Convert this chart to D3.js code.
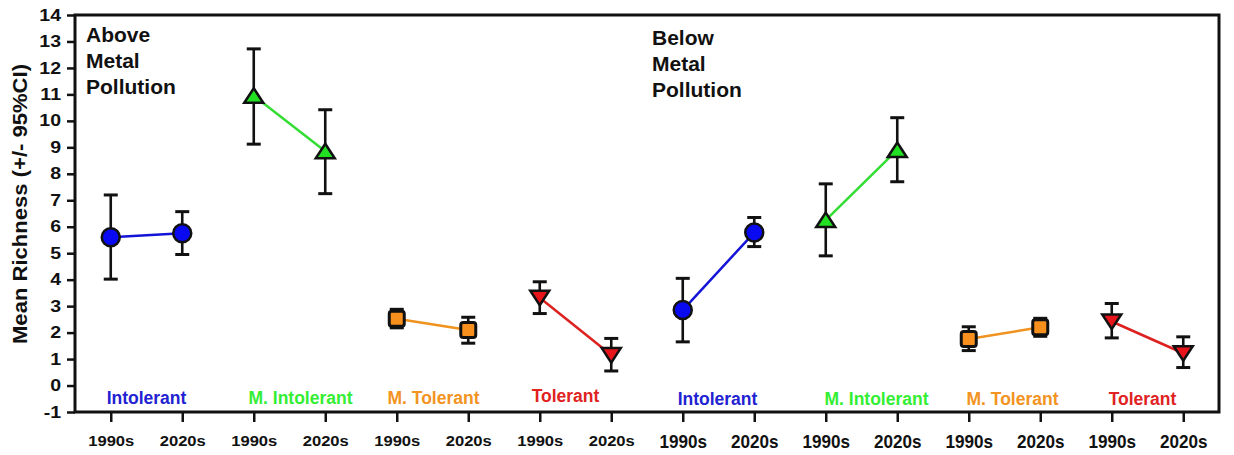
<!DOCTYPE html>
<html>
<head>
<meta charset="utf-8">
<script src="https://cdn.jsdelivr.net/npm/d3@7"></script>
<style>
  html, body { margin: 0; padding: 0; background: #fff; }
  svg { display: block; font-family: Arial, "Liberation Sans", sans-serif; }
</style>
</head>
<body>
<svg id="chart" width="1234" height="455"></svg>
<script>
// ---------------- data ----------------
const zones = ["Above Metal Pollution", "Below Metal Pollution"];
const categories = ["Intolerant", "M. Intolerant", "M. Tolerant", "Tolerant"];
const periods = ["1990s", "2020s"];
const yTicks = [-1, 0, 1, 2, 3, 4, 5, 6, 7, 8, 9, 10, 11, 12, 13, 14];
const yTitle = "Mean Richness (+/- 95%CI)";

// order within each array: Above 1990s, Above 2020s, Below 1990s, Below 2020s
const intolerantMean  = [5.60, 5.75, 2.85, 5.78];
const intolerantLow   = [4.02, 4.95, 1.65, 5.25];
const intolerantHigh  = [7.20, 6.57, 4.05, 6.35];
const mIntolerantMean = [10.95, 8.85, 6.25, 8.90];
const mIntolerantLow  = [9.12, 7.25, 4.90, 7.70];
const mIntolerantHigh = [12.72, 10.42, 7.62, 10.12];
const mTolerantMean   = [2.52, 2.10, 1.76, 2.20];
const mTolerantLow    = [2.18, 1.60, 1.32, 1.86];
const mTolerantHigh   = [2.88, 2.58, 2.22, 2.54];
const tolerantMean    = [3.32, 1.15, 2.42, 1.22];
const tolerantLow     = [2.72, 0.55, 1.80, 0.68];
const tolerantHigh    = [3.92, 1.78, 3.10, 1.84];

const seriesMean = [intolerantMean, mIntolerantMean, mTolerantMean, tolerantMean];
const seriesLow  = [intolerantLow, mIntolerantLow, mTolerantLow, tolerantLow];
const seriesHigh = [intolerantHigh, mIntolerantHigh, mTolerantHigh, tolerantHigh];

// ---------------- styles ----------------
const fillColors = ["#0a0af2", "#22e022", "#f7901c", "#e8141c"];
const lineColors = ["#1414d8", "#33dd33", "#f0921e", "#dd2020"];
const textColors = ["#2222d2", "#33ee33", "#f29322", "#e02222"];
const markerShapes = ["circle", "up", "square", "down"];
const labelDx = [[0, 11, 1, -10], [-1, 15, 8, -5]];
const labelDy = [[0, 0, 0, -2], [1, 1, 1, 1]];

// ---------------- layout ----------------
const svg = d3.select("#chart");
const X0 = 75, X1 = 1219, Y0 = 412, Y1 = 15;

const keys = d3.range(zones.length * categories.length * periods.length);
const x = d3.scalePoint().domain(keys).range([X0, X1]).padding(0.5);
const y = d3.scaleLinear().domain([-1, 14]).range([Y0, Y1]);

function stretch(sel, f) {
  sel.each(function () {
    const len = this.getComputedTextLength();
    d3.select(this).attr("textLength", len * f).attr("lengthAdjust", "spacingAndGlyphs");
  });
}

// y axis
const yAxis = svg.append("g")
  .attr("transform", `translate(${X0},0)`)
  .call(d3.axisLeft(y).tickValues(yTicks).tickSize(8).tickPadding(6).tickFormat(d => String(d)));
yAxis.select(".domain").remove();
yAxis.selectAll(".tick line").attr("stroke", "#111").attr("stroke-width", 2.5);
yAxis.selectAll(".tick text")
  .attr("fill", "#111").attr("font-size", 16).attr("font-weight", "bold")
  .attr("font-family", "Arial, 'Liberation Sans', sans-serif")
  .call(stretch, 1.22);

// x axis
const xAxis = svg.append("g")
  .attr("transform", `translate(0,${Y0})`)
  .call(d3.axisBottom(x).tickSize(10).tickPadding(0).tickFormat(d => periods[d % 2]));
xAxis.select(".domain").remove();
xAxis.selectAll(".tick line").attr("stroke", "#111").attr("stroke-width", 2.5);
xAxis.selectAll(".tick text")
  .attr("fill", "#111").attr("font-weight", "bold")
  .attr("font-family", "Arial, 'Liberation Sans', sans-serif")
  .attr("dy", null)
  .attr("y", d => d < 8 ? 34 : 36)
  .attr("font-size", d => d < 8 ? 15.5 : 19)
  .each(function (d) { d3.select(this).call(stretch, d < 8 ? 1.07 : 0.9); });

// frame
svg.append("path")
  .attr("d", `M${X0},${Y1} L${X1},${Y1} L${X1},${Y0} L${X0},${Y0} Z`)
  .attr("fill", "none").attr("stroke", "#111").attr("stroke-width", 3);

// y title
svg.append("text")
  .attr("transform", `translate(27,204) rotate(-90)`)
  .attr("text-anchor", "middle")
  .attr("font-size", 21).attr("font-weight", "bold").attr("fill", "#111")
  .text(yTitle)
  .call(stretch, 1.05);

// zone annotations
const zoneAnchor = [{ x: 86, y: 42 }, { x: 652, y: 45 }];
zones.forEach((z, zi) => {
  const words = z.split(" ");
  const t = svg.append("text")
    .attr("font-size", 21).attr("font-weight", "bold").attr("fill", "#111");
  words.forEach((w, i) => {
    t.append("tspan").attr("x", zoneAnchor[zi].x).attr("y", zoneAnchor[zi].y + i * 26).text(w);
  });
});

// build points
const points = [];
zones.forEach((z, zi) => {
  categories.forEach((c, ci) => {
    periods.forEach((p, pi) => {
      const idx = zi * 2 + pi;
      points.push({
        key: zi * 8 + ci * 2 + pi, zi, ci, pi,
        mean: seriesMean[ci][idx], low: seriesLow[ci][idx], high: seriesHigh[ci][idx]
      });
    });
  });
});

// category labels
zones.forEach((z, zi) => {
  categories.forEach((c, ci) => {
    const k0 = zi * 8 + ci * 2;
    svg.append("text")
      .attr("x", (x(k0) + x(k0 + 1)) / 2 + labelDx[zi][ci])
      .attr("y", 404 + labelDy[zi][ci])
      .attr("text-anchor", "middle")
      .attr("font-size", 17.5).attr("font-weight", "bold")
      .attr("fill", textColors[ci])
      .text(c);
  });
});

// connecting lines
const line = d3.line().x(d => x(d.key)).y(d => y(d.mean));
zones.forEach((z, zi) => {
  categories.forEach((c, ci) => {
    const seg = points.filter(p => p.zi === zi && p.ci === ci);
    svg.append("path").attr("d", line(seg))
      .attr("fill", "none").attr("stroke", lineColors[ci]).attr("stroke-width", 2.5);
  });
});

// error bars
const eb = svg.append("g").attr("stroke", "#111");
points.forEach(p => {
  const cx = x(p.key);
  eb.append("line").attr("x1", cx).attr("x2", cx).attr("y1", y(p.high)).attr("y2", y(p.low)).attr("stroke-width", 2.6);
  [p.high, p.low].forEach(v => {
    eb.append("line").attr("x1", cx - 7).attr("x2", cx + 7).attr("y1", y(v)).attr("y2", y(v)).attr("stroke-width", 3);
  });
});

// markers
const mk = svg.append("g");
points.forEach(p => {
  const cx = x(p.key), cy = y(p.mean);
  const shape = markerShapes[p.ci];
  let el;
  if (shape === "circle") {
    el = mk.append("circle").attr("cx", cx).attr("cy", cy).attr("r", 9);
  } else if (shape === "square") {
    el = mk.append("rect").attr("x", cx - 7.5).attr("y", cy - 7.5).attr("width", 15).attr("height", 15).attr("rx", 2.5);
  } else if (shape === "up") {
    el = mk.append("path").attr("d", `M${cx},${cy - 7.5} L${cx + 9.5},${cy + 7} L${cx - 9.5},${cy + 7} Z`);
  } else {
    el = mk.append("path").attr("d", `M${cx - 9.5},${cy - 7} L${cx + 9.5},${cy - 7} L${cx},${cy + 7.5} Z`);
  }
  el.attr("fill", fillColors[p.ci]).attr("stroke", "#111")
    .attr("stroke-width", shape === "square" ? 3 : 2.5).attr("stroke-linejoin", "miter");
});
</script>
</body>
</html>
